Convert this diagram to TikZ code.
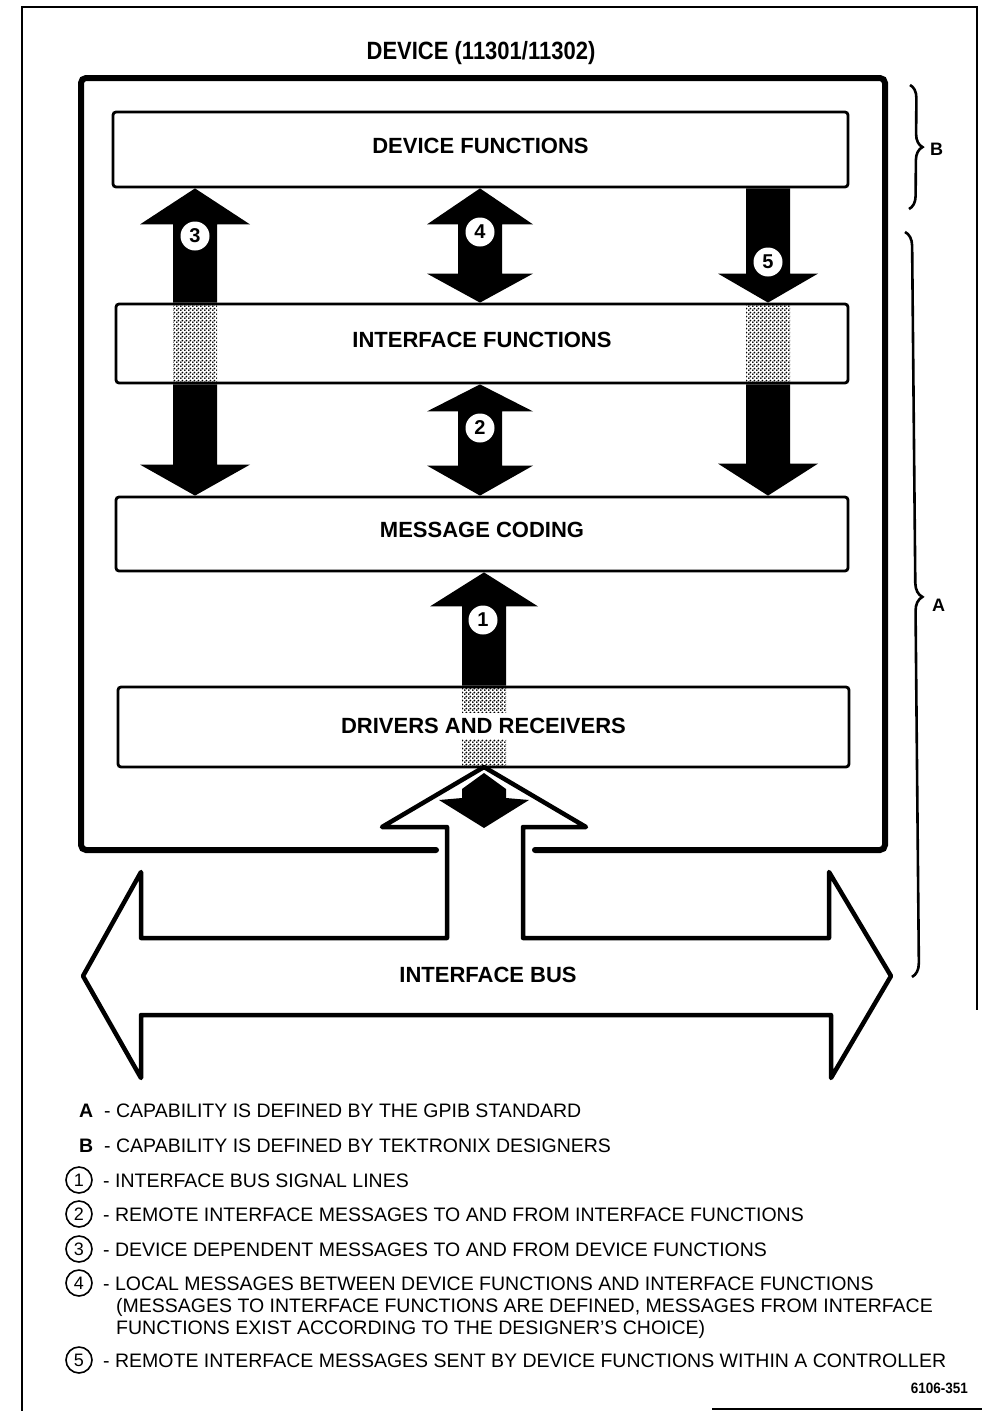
\documentclass[tikz,border=0pt]{standalone}
\usepackage{fontspec}
\setmainfont{Liberation Sans}
\usetikzlibrary{calc,decorations.pathreplacing,patterns}
\pgfdeclarepatternformonly{stipple}{\pgfqpoint{0pt}{0pt}}{\pgfqpoint{4pt}{4pt}}{\pgfqpoint{4pt}{4pt}}{%
  \pgfpathcircle{\pgfqpoint{1pt}{1pt}}{1.2pt}%
  \pgfpathcircle{\pgfqpoint{3pt}{3pt}}{1.2pt}%
  \pgfusepath{fill}}
\newcommand\boxfont{\fontsize{22}{26}\selectfont\bfseries}
% block arrow pieces: #1 x-coordinate, #2 shaft end, #3 tip, #4 head length, #5 head half width
\newcommand\hdown[5]{\fill ($(#1 |- #2)+(-22,0)$) -- ($(#1 |- #3)+(-22,-#4)$) -- ($(#1 |- #3)+(-#5,-#4)$) -- (#1 |- #3) -- ($(#1 |- #3)+(#5,-#4)$) -- ($(#1 |- #3)+(22,-#4)$) -- ($(#1 |- #2)+(22,0)$) -- cycle;}
\newcommand\hup[5]{\fill ($(#1 |- #2)+(-22,0)$) -- ($(#1 |- #3)+(-22,#4)$) -- ($(#1 |- #3)+(-#5,#4)$) -- (#1 |- #3) -- ($(#1 |- #3)+(#5,#4)$) -- ($(#1 |- #3)+(22,#4)$) -- ($(#1 |- #2)+(22,0)$) -- cycle;}
% #1 x, #2 top tip, #3 top head length, #4 bottom tip, #5 bottom head length, #6 head half width
\newcommand\hboth[6]{\fill (#1 |- #2) -- ($(#1 |- #2)+(#6,#3)$) -- ($(#1 |- #2)+(22,#3)$) -- ($(#1 |- #4)+(22,-#5)$) -- ($(#1 |- #4)+(#6,-#5)$) -- (#1 |- #4) -- ($(#1 |- #4)+(-#6,-#5)$) -- ($(#1 |- #4)+(-22,-#5)$) -- ($(#1 |- #2)+(-22,#3)$) -- ($(#1 |- #2)+(-#6,#3)$) -- cycle;}
\begin{document}
\begin{tikzpicture}[x=1pt,y=-1pt,
  fbox/.style={draw, line width=2.8pt, rounded corners=3pt, fill=white, inner sep=0pt, font=\boxfont, text height=15.75pt},
  num/.style={circle, fill=white, inner sep=0pt, minimum size=29pt, font=\fontsize{20}{20}\selectfont\bfseries},
  lnum/.style={circle, draw, line width=1.6pt, inner sep=0pt, minimum size=26pt, font=\fontsize{18}{18}\selectfont},
  legend/.style={anchor=base west, inner sep=0pt, font=\fontsize{19.5}{22}\selectfont},
  blabel/.style={anchor=west, inner sep=0pt, font=\fontsize{18}{18}\selectfont\bfseries},
  stip/.style={pattern=stipple},
  bracestyle/.style={line width=2.6pt, decorate, decoration={brace, amplitude=13pt}}]
\useasboundingbox (0,0) rectangle (982,1411);
% page frame
\draw[line width=1.6pt] (22,1411) -- (22,7) -- (977,7) -- (977,1010);
\draw[line width=2pt] (712,1409) -- (982,1409);
% title
\node[anchor=base, inner sep=0pt] (title) at (481,59) {\scalebox{0.88}[1]{\fontsize{25}{25}\selectfont\bfseries DEVICE (11301/11302)}};
% device box
\draw[line width=6pt, rounded corners=5pt, line cap=round] (436,850) -- (81,850) -- (81,78) -- (885,78) -- (885,850) -- (535,850);
% functional boxes
\node[fbox, minimum width=735pt, minimum height=75pt, text depth=7pt] (df) at (480.5,149.5) {DEVICE FUNCTIONS};
\node[fbox, minimum width=732pt, minimum height=79pt, text depth=7pt] (if) at (482,343.5) {INTERFACE FUNCTIONS};
\node[fbox, minimum width=732pt, minimum height=74pt, text depth=9pt] (mc) at (482,534) {MESSAGE CODING};
\node[fbox, minimum width=731pt, minimum height=80pt, text depth=2pt] (dr) at (483.5,727) {DRIVERS AND RECEIVERS};
% arrow axes
\coordinate (x3) at (195,0);
\coordinate (x4) at (480,0);
\coordinate (x5) at (768,0);
\coordinate (x1) at (484,0);
% arrow 3
\hup{x3}{if.north}{df.south}{36}{55}
\hdown{x3}{if.south}{mc.north}{31}{55}
\fill[stip] ($(x3 |- if.north)+(-22,1.4)$) rectangle ($(x3 |- if.south)+(22,-1.4)$);
% arrow 4 and 2
\hboth{x4}{df.south}{36}{if.north}{29}{53}
\hboth{x4}{if.south}{27}{mc.north}{30}{53}
% arrow 5
\hdown{x5}{df.south}{if.north}{29}{50}
\hdown{x5}{if.south}{mc.north}{32}{50}
\fill[stip] ($(x5 |- if.north)+(-22,1.4)$) rectangle ($(x5 |- if.south)+(22,-1.4)$);
% arrow 1
\hup{x1}{dr.north}{mc.south}{34}{54}
\fill[stip] ($(x1 |- dr.north)+(-22,1.4)$) rectangle ($(x1 |- dr.north)+(22,27)$);
\fill[stip] ($(x1 |- dr.south)+(-22,-29)$) rectangle ($(x1 |- dr.south)+(22,-1.4)$);
% numbers on arrows
\node[num] (n3) at (195,236) {3};
\node[num] (n4) at (480,232) {4};
\node[num] (n2) at (480,428) {2};
\node[num] (n5) at (768,262) {5};
\node[num] (n1) at (483,620) {1};
% interface bus
\draw[line width=4.5pt, line join=round] (83,976) -- (141,872) -- (141,938) -- (447,938) -- (447,827) -- (382,827) -- (484,767) -- (586,827) -- (523,827) -- (523,938) -- (829,938) -- (829,872) -- (891,976) -- (831,1078) -- (831,1015) -- (141,1015) -- (141,1078) -- cycle;
\fill (484,773) -- (506,789) -- (506,798) -- (529,800) -- (484,828) -- (439,800) -- (462,798) -- (462,789) -- cycle;
\node[inner sep=0pt, font=\boxfont, text height=15.75pt, text depth=0pt] (bus) at (488,975) {INTERFACE BUS};
% braces
\draw[bracestyle] (910,85) -- (909,209);
\node[blabel] (lb) at (930,149) {B};
\draw[bracestyle, decoration={brace, amplitude=14pt, aspect=0.49}] (905,232) -- (912,977);
\node[blabel] (la) at (932,605) {A};
% legend
\node[legend, font=\fontsize{19.5}{22}\selectfont\bfseries] (ka) at (79,1117) {A};
\node[legend] (ta) at (104,1117) {- CAPABILITY IS DEFINED BY THE GPIB STANDARD};
\node[legend, font=\fontsize{19.5}{22}\selectfont\bfseries] (kb) at (79,1152) {B};
\node[legend] (tb) at (104,1152) {- CAPABILITY IS DEFINED BY TEKTRONIX DESIGNERS};
\node[lnum] (k1) at (79,1180) {1};
\node[legend] (t1) at (103,1187) {- INTERFACE BUS SIGNAL LINES};
\node[lnum] (k2) at (79,1214) {2};
\node[legend] (t2) at (103,1221) {- REMOTE INTERFACE MESSAGES TO AND FROM INTERFACE FUNCTIONS};
\node[lnum] (k3) at (79,1249) {3};
\node[legend] (t3) at (103,1256) {- DEVICE DEPENDENT MESSAGES TO AND FROM DEVICE FUNCTIONS};
\node[lnum] (k4) at (79,1283) {4};
\node[legend] (t4) at (103,1290) {- LOCAL MESSAGES BETWEEN DEVICE FUNCTIONS AND INTERFACE FUNCTIONS};
\node[legend] (t4b) at (116,1312) {(MESSAGES TO INTERFACE FUNCTIONS ARE DEFINED, MESSAGES FROM INTERFACE};
\node[legend] (t4c) at (116,1334) {FUNCTIONS EXIST ACCORDING TO THE DESIGNER’S CHOICE)};
\node[lnum] (k5) at (79,1360) {5};
\node[legend] (t5) at (103,1367) {- REMOTE INTERFACE MESSAGES SENT BY DEVICE FUNCTIONS WITHIN A CONTROLLER};
\node[anchor=base east, inner sep=0pt] (fig) at (968,1393) {\scalebox{0.9}[1]{\fontsize{15}{15}\selectfont\bfseries 6106-351}};
\end{tikzpicture}
\end{document}
